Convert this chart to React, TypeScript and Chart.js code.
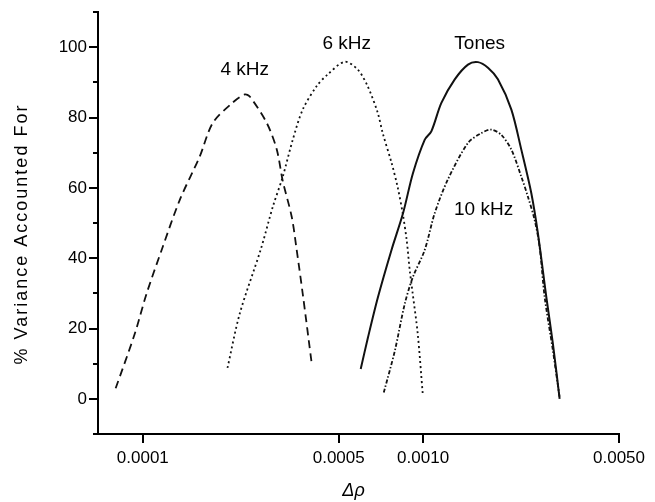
import React, { useEffect, useRef } from "react";
import { Chart, registerables } from "chart.js";

Chart.register(...registerables);

// ---- data ----
const fourX = [0.8e-4, 0.936e-4, 1.031e-4, 1.169e-4, 1.355e-4, 1.597e-4, 1.777e-4, 2.094e-4, 2.311e-4, 2.408e-4, 2.768e-4, 3.004e-4, 3.157e-4, 3.398e-4, 3.541e-4, 3.72e-4, 4.006e-4];
const fourY = [3, 18.5, 29.9, 42.5, 56.6, 69, 78.5, 84.3, 86.6, 86, 78.5, 71, 62, 51.8, 42.3, 29.9, 10];

const sixX = [2.005e-4, 2.218e-4, 2.635e-4, 2.908e-4, 3.157e-4, 3.427e-4, 3.72e-4, 4.174e-4, 4.568e-4, 5.25e-4, 5.845e-4, 6.345e-4, 6.888e-4, 7.177e-4, 7.727e-4, 8.11e-4, 8.457e-4, 8.74e-4, 8.96e-4, 9.18e-4, 9.57e-4, 9.97e-4];
const sixY = [8.8, 24.3, 42.5, 54.6, 63.2, 73.7, 82.3, 89, 92.3, 95.9, 93.7, 88.9, 81.4, 75.6, 67, 60.3, 52.8, 45.1, 36.6, 30, 18.5, 1.4];

const tonesX = [5.99e-4, 6.36e-4, 6.9e-4, 7.71e-4, 8.48e-4, 9.2e-4, 1.013e-3, 1.07e-3, 1.162e-3, 1.297e-3, 1.446e-3, 1.57e-3, 1.704e-3, 1.849e-3, 2.065e-3, 2.241e-3, 2.433e-3, 2.569e-3, 2.753e-3, 2.906e-3, 3.07e-3];
const tonesY = [8.5, 17.5, 28.9, 42.3, 52.8, 64.2, 73.7, 76.1, 84.2, 90.9, 95.1, 95.8, 94.2, 90.9, 82.3, 70.9, 58.5, 47, 28.9, 15.6, 0];

const tenX = [7.24e-4, 7.93e-4, 8.6e-4, 9.2e-4, 1.013e-3, 1.1e-3, 1.224e-3, 1.446e-3, 1.614e-3, 1.752e-3, 1.901e-3, 2.065e-3, 2.241e-3, 2.366e-3, 2.5e-3, 2.605e-3, 2.715e-3, 2.906e-3, 3.07e-3];
const tenY = [1.8, 13.7, 27, 34.7, 42.3, 52.8, 62.3, 72.8, 75.6, 76.6, 75.1, 70.9, 63.2, 57.5, 50.9, 43.2, 28.9, 13.7, 0.4];

const xTicks = [0.0001, 0.0005, 0.001, 0.005];
const yTicks = [0, 20, 40, 60, 80, 100];
const yMinorTicks = [-10, 10, 30, 50, 70, 90, 110];

const labelTexts = ["4 kHz", "6 kHz", "Tones", "10 kHz"];
const labelX = [2.31e-4, 5.34e-4, 1.592e-3, 1.644e-3];
const labelY = [93.7, 100.9, 100.9, 53.7];

const yTitle = "% Variance Accounted For";
const xTitle = "Δρ";

const FONT = "'Liberation Sans', Arial, Helvetica, sans-serif";

const toPts = (xs: number[], ys: number[]) => xs.map((x, i) => ({ x, y: ys[i] }));

const extras = {
  id: "extras",
  afterDraw(chart: any) {
    const { ctx, scales, chartArea } = chart;
    const xs = scales.x;
    const ys = scales.y;
    ctx.save();
    // minor y ticks
    ctx.strokeStyle = "#000";
    ctx.lineWidth = 2;
    yMinorTicks.forEach((v) => {
      const py = Math.round(ys.getPixelForValue(v));
      ctx.beginPath();
      ctx.moveTo(chartArea.left - 5, py);
      ctx.lineTo(chartArea.left, py);
      ctx.stroke();
    });
    // curve labels
    ctx.fillStyle = "#000";
    ctx.font = `19px ${FONT}`;
    ctx.textAlign = "center";
    ctx.textBaseline = "middle";
    labelTexts.forEach((t, i) => {
      ctx.fillText(t, xs.getPixelForValue(labelX[i]), ys.getPixelForValue(labelY[i]));
    });
    // y title
    ctx.save();
    ctx.translate(22, 234);
    ctx.rotate(-Math.PI / 2);
    (ctx as any).letterSpacing = "2px";
    ctx.font = `18px ${FONT}`;
    ctx.fillText(yTitle, 0, 0);
    ctx.restore();
    // x title
    ctx.font = `italic 18px ${FONT}`;
    ctx.fillText(xTitle, (chartArea.left + chartArea.right) / 2 - 5, 491);
    ctx.restore();
  },
};

export default function App() {
  const ref = useRef<HTMLCanvasElement | null>(null);
  useEffect(() => {
    if (!ref.current) return;
    const lineBase = {
      borderColor: "#111",
      pointRadius: 0,
      fill: false,
      tension: 0.3,
      showLine: true,
    };
    const chart = new Chart(ref.current, {
      type: "scatter",
      data: {
        datasets: [
          { ...lineBase, label: "4 kHz", data: toPts(fourX, fourY), borderWidth: 1.8, borderDash: [8, 5] },
          { ...lineBase, label: "6 kHz", data: toPts(sixX, sixY), borderWidth: 1.8, borderDash: [2, 3] },
          { ...lineBase, label: "Tones", data: toPts(tonesX, tonesY), borderWidth: 2 },
          { ...lineBase, label: "10 kHz", data: toPts(tenX, tenY), borderWidth: 1.8, borderDash: [4, 2, 1.5, 2] },
        ],
      },
      options: {
        animation: false,
        responsive: false,
        maintainAspectRatio: false,
        layout: { padding: { top: 12, right: 36, left: 0, bottom: 0 } },
        plugins: { legend: { display: false }, tooltip: { enabled: false } },
        scales: {
          x: {
            type: "logarithmic",
            min: 0.0000692,
            max: 0.005,
            afterBuildTicks: (s: any) => {
              s.ticks = xTicks.map((v) => ({ value: v }));
            },
            afterFit: (s: any) => {
              s.height = 68;
            },
            ticks: {
              color: "#000",
              font: { size: 17, family: FONT },
              padding: 5,
              maxRotation: 0,
              autoSkip: false,
              callback: (v: any) => Number(v).toFixed(4),
            },
            grid: { drawOnChartArea: false, tickLength: 9, color: "#000", lineWidth: 2 },
            border: { display: true, color: "#000", width: 2 },
          },
          y: {
            type: "linear",
            min: -10,
            max: 110,
            afterBuildTicks: (s: any) => {
              s.ticks = yTicks.map((v) => ({ value: v }));
            },
            afterFit: (s: any) => {
              s.width = 98;
            },
            ticks: {
              color: "#000",
              font: { size: 17, family: FONT },
              padding: 2,
              callback: (v: any) => String(v),
            },
            grid: { drawOnChartArea: false, tickLength: 9, color: "#000", lineWidth: 2 },
            border: { display: true, color: "#000", width: 2 },
          },
        },
      },
      plugins: [extras],
    } as any);
    return () => chart.destroy();
  }, []);
  return (
    <div style={{ position: "absolute", left: 0, top: 0, width: 655, height: 502, background: "#fff" }}>
      <canvas ref={ref} width={655} height={502} style={{ width: 655, height: 502, display: "block" }} />
    </div>
  );
}
